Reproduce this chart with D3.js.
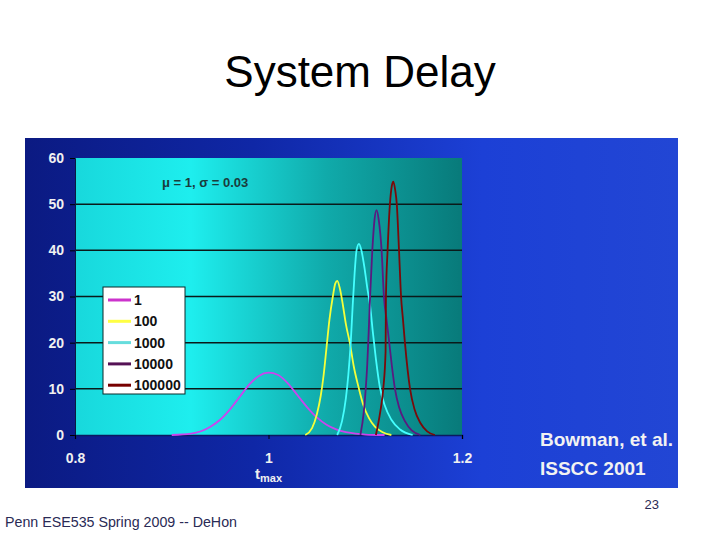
<!DOCTYPE html>
<html><head><meta charset="utf-8">
<script src="https://cdn.jsdelivr.net/npm/d3@7/dist/d3.min.js"></script>
<style>html,body{margin:0;padding:0;background:#fff;}svg{display:block;}</style>
</head><body>
<svg id="c" width="720" height="540"></svg>
<script>
// ---- data ----
const seriesNames = ["1", "100", "1000", "10000", "100000"];
const seriesColors = ["#cc44ee", "#f4ff3a", "#44ffff", "#5a1a80", "#7a0a0a"];
const legendColors = ["#cc33cc", "#ffff44", "#66dddd", "#551155", "#770000"];

const t1 = [0.900,0.920,0.940,0.950,0.960,0.970,0.980,0.990,1.000,1.010,1.020,1.030,1.040,1.050,1.060,1.070,1.080,1.090,1.100,1.120];
const v1 = [0,    0.3,  1.8,  3.3,  5.5,  8.2, 10.9, 12.8, 13.5, 13.0, 11.2,  8.6,  6.0,  3.8,  2.2,  1.2,  0.6,  0.3,  0.1,  0];

const t100 = [1.038,1.045,1.050,1.054,1.057,1.060,1.063,1.0665,1.069,1.0711,1.074,1.077,1.080,1.084,1.088,1.0935,1.098,1.104,1.110,1.118,1.127];
const v100 = [0,    1.5,  4.5,  8.5, 13,   19,   25,   30,    32.8, 33.4,  31.5, 28,   24,   20,   15,   10,    6.5,  3.6,  1.8,  0.6,  0];

const t1000 = [1.071,1.076,1.080,1.0825,1.085,1.087,1.089,1.091,1.0935,1.096,1.099,1.102,1.105,1.108,1.111,1.115,1.120,1.127,1.136,1.149];
const v1000 = [0,    3,    8,    13,    20,   28,   35,   40,   41.4,  40,   36.5, 32,   28,   22,   16.5, 10.5, 6.5,  3.3,  1.2,  0];

const t10000 = [1.095,1.0985,1.1005,1.102,1.1035,1.105,1.1073,1.1095,1.1117,1.114,1.1169,1.1193,1.122,1.1248,1.1275,1.1307,1.135,1.141,1.148,1.157];
const v10000 = [0,    5,     10,    15,   22,    30,   40,    46.5,  48.7,  46.5, 40,    30,    25,   20,    15,    10,    6,    3,    1,    0];

const t100000 = [1.111,1.1155,1.1186,1.121,1.1214,1.1231,1.1255,1.1275,1.129,1.131,1.1326,1.1349,1.137,1.139,1.141,1.1463,1.151,1.157,1.164,1.172];
const v100000 = [0,    5,     10,    18,   30,    40,    50,    54,    54.9, 53,   50,    40,    30,   25,   20,   10,    5.5,  2.6,  0.8,  0];

const seriesT = [t1, t100, t1000, t10000, t100000];
const seriesV = [v1, v100, v1000, v10000, v100000];

const yTicks = [0, 10, 20, 30, 40, 50, 60];
const xTicks = [0.8, 1, 1.2];
const xTickLabels = ["0.8", "1", "1.2"];

// ---- drawing ----
const FONT = "'Liberation Sans', Arial, sans-serif";
const svg = d3.select("#c");
const defs = svg.append("defs");

const bg = defs.append("linearGradient").attr("id","bg").attr("x1","0").attr("x2","1").attr("y1","0").attr("y2","0");
bg.append("stop").attr("offset","0%").attr("stop-color","#0b1a82");
bg.append("stop").attr("offset","35%").attr("stop-color","#0f27a6");
bg.append("stop").attr("offset","70%").attr("stop-color","#1c40d6");
bg.append("stop").attr("offset","100%").attr("stop-color","#2246d4");

const pg = defs.append("linearGradient").attr("id","pg").attr("x1","0").attr("x2","1").attr("y1","0").attr("y2","0");
pg.append("stop").attr("offset","0%").attr("stop-color","#18d8dc");
pg.append("stop").attr("offset","30%").attr("stop-color","#1eeeee");
pg.append("stop").attr("offset","65%").attr("stop-color","#10aaaa");
pg.append("stop").attr("offset","100%").attr("stop-color","#087a7a");

// slide title
svg.append("text").attr("x",360).attr("y",87).attr("text-anchor","middle")
  .style("font-family",FONT).style("font-size","44px").attr("fill","#000")
  .text("System Delay");

// picture background
svg.append("rect").attr("x",25).attr("y",138).attr("width",653).attr("height",350).attr("fill","url(#bg)");

const x = d3.scaleLinear().domain([0.8, 1.2]).range([75, 462]);
const y = d3.scaleLinear().domain([0, 60]).range([435, 158]);

// plot area
svg.append("rect").attr("x",x(0.8)).attr("y",y(60)).attr("width",x(1.2)-x(0.8)).attr("height",y(0)-y(60)).attr("fill","url(#pg)");

// gridlines
svg.append("g").selectAll("line").data(yTicks.filter(d=>d>0 && d<60)).join("line")
  .attr("x1",x(0.8)).attr("x2",x(1.2)).attr("y1",d=>y(d)).attr("y2",d=>y(d))
  .attr("stroke","#0a1a1a").attr("stroke-width",1.5);

// y axis
const ya = svg.append("g").attr("transform",`translate(${x(0.8)},0)`)
  .call(d3.axisLeft(y).tickValues(yTicks).tickSize(5).tickPadding(6).tickFormat(d3.format("d")));
ya.select(".domain").attr("stroke","#0a1a40").attr("stroke-width",1);
ya.selectAll(".tick line").attr("stroke","#000");
ya.selectAll("text").attr("fill","#f0f0f0").style("font-family",FONT)
  .style("font-size","14px").style("font-weight","bold");

// x axis
const xa = svg.append("g").attr("transform",`translate(0,${y(0)})`)
  .call(d3.axisBottom(x).tickValues(xTicks).tickSize(4).tickPadding(14).tickFormat((d,i)=>xTickLabels[i]));
xa.select(".domain").attr("stroke","#0a1a60").attr("stroke-width",1.5);
xa.selectAll(".tick line").attr("stroke","#000");
xa.selectAll("text").attr("fill","#f0f0f0").style("font-family",FONT)
  .style("font-size","14px").style("font-weight","bold");

// x axis title
const xt = svg.append("text").attr("x",x(1)).attr("y",479).attr("text-anchor","middle").attr("fill","#f0f0f0")
  .style("font-family",FONT).style("font-weight","bold").style("font-size","15px");
xt.append("tspan").text("t");
xt.append("tspan").attr("dy",3).style("font-size","11px").text("max");

// series lines
const line = d3.line().x(d=>x(d[0])).y(d=>y(d[1])).curve(d3.curveMonotoneX);
seriesNames.forEach((name,i)=>{
  const pts = seriesT[i].map((t,j)=>[t, seriesV[i][j]]);
  svg.append("path").datum(pts).attr("d",line).attr("fill","none")
    .attr("stroke",seriesColors[i]).attr("stroke-width",1.8).attr("stroke-linejoin","round");
});

// annotation
svg.append("text").attr("x",162).attr("y",187)
  .style("font-family",FONT).style("font-weight","bold").style("font-size","13px")
  .attr("fill","#1a3c3c").text("μ = 1, σ = 0.03");

// legend
const lg = svg.append("g").attr("transform","translate(103,287)");
lg.append("rect").attr("x",0).attr("y",0).attr("width",82).attr("height",107).attr("fill","#fff")
  .attr("stroke","#0a2a2a").attr("stroke-width",1);
seriesNames.forEach((name,i)=>{
  const yy = 13 + i*21.3;
  lg.append("line").attr("x1",5).attr("x2",28).attr("y1",yy).attr("y2",yy)
    .attr("stroke",legendColors[i]).attr("stroke-width",3);
  lg.append("text").attr("x",31).attr("y",yy+5)
    .style("font-family",FONT).style("font-weight","bold").style("font-size","14px")
    .attr("fill","#111").text(name);
});

// citation
const cite = svg.append("g").style("font-family",FONT).style("font-weight","bold")
  .style("font-size","19px").attr("fill","#f2f2f2");
cite.append("text").attr("x",540).attr("y",446).text("Bowman, et al.");
cite.append("text").attr("x",540).attr("y",475).text("ISSCC 2001");

// footer
svg.append("text").attr("x",659).attr("y",509).attr("text-anchor","end")
  .style("font-family",FONT).style("font-size","13px").attr("fill","#2a2a55").text("23");
svg.append("text").attr("x",5).attr("y",527).attr("textLength",232).attr("lengthAdjust","spacingAndGlyphs")
  .style("font-family",FONT).style("font-size","14px").attr("fill","#2a2a55")
  .text("Penn ESE535 Spring 2009 -- DeHon");
</script>
</body></html>
